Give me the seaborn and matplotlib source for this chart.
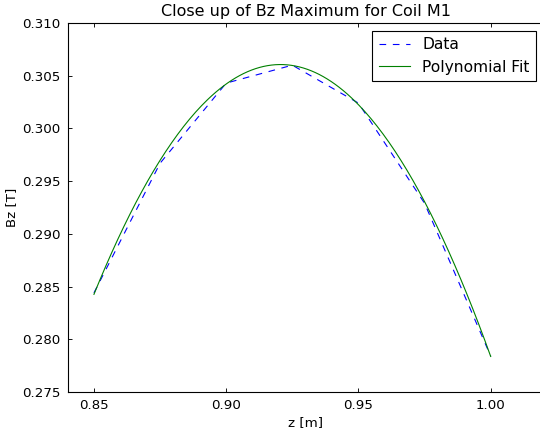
import numpy as np
import matplotlib
matplotlib.use("Agg")
import matplotlib.pyplot as plt
import seaborn as sns

# Data
z_data = [0.85, 0.875, 0.90, 0.925, 0.95, 0.975, 1.00]
bz_data = [0.2844, 0.2967, 0.3043, 0.3060, 0.3024, 0.2929, 0.2784]
x_ticks = [0.85, 0.90, 0.95, 1.00]
y_ticks = [0.275, 0.280, 0.285, 0.290, 0.295, 0.300, 0.305, 0.310]
title = "Close up of Bz Maximum for Coil M1"

plt.rcParams.update({
    "font.family": ["DejaVu Sans"],
    "font.size": 12,
    "xtick.direction": "in",
    "ytick.direction": "in",
    "xtick.top": True,
    "ytick.right": True,
    "xtick.major.size": 4,
    "ytick.major.size": 4,
    "xtick.major.pad": 6,
    "ytick.major.pad": 6,
    "xtick.labelsize": 12,
    "ytick.labelsize": 12,
    "axes.labelsize": 12,
    "axes.titlesize": 14.4,
    "lines.dashed_pattern": [6, 6],
    "axes.linewidth": 1.0,
})

# Quadratic fit computed from the data arrays
coeffs = np.polyfit(z_data, bz_data, 2)
z_fit = np.linspace(min(z_data), max(z_data), 200)
bz_fit = np.polyval(coeffs, z_fit)

fig = plt.figure(figsize=(540 / 80, 428 / 80), dpi=80)
ax = fig.add_axes([67.5 / 540, (428 - 392) / 428, (543.6 - 67.5) / 540, (392 - 23) / 428])

sns.lineplot(x=z_data, y=bz_data, ax=ax, color=(0, 0, 1), linestyle="--",
             linewidth=1.0, label="Data", sort=False)
sns.lineplot(x=z_fit, y=bz_fit, ax=ax, color=(0, 0.5, 0), linewidth=1.0,
             label="Polynomial Fit", sort=False)

ax.set_xlim(0.84, 1.02)
ax.set_ylim(0.275, 0.310)
ax.set_xticks(x_ticks)
ax.set_yticks(y_ticks)
ax.set_xticklabels([f"{v:.2f}" for v in x_ticks])
ax.set_yticklabels([f"{v:.3f}" for v in y_ticks])
ax.set_xlabel("z [m]")
ax.set_ylabel("Bz [T]")
ax.set_title(title)
ax.grid(False)

leg = ax.legend(loc="upper right", fontsize=14, fancybox=False, framealpha=1,
                edgecolor="black", borderpad=0.4, labelspacing=0.5,
                handlelength=2.0, handletextpad=0.8, borderaxespad=0.5)
leg.get_frame().set_linewidth(1.0)

fig.savefig("out.png", dpi=80, facecolor="white")
